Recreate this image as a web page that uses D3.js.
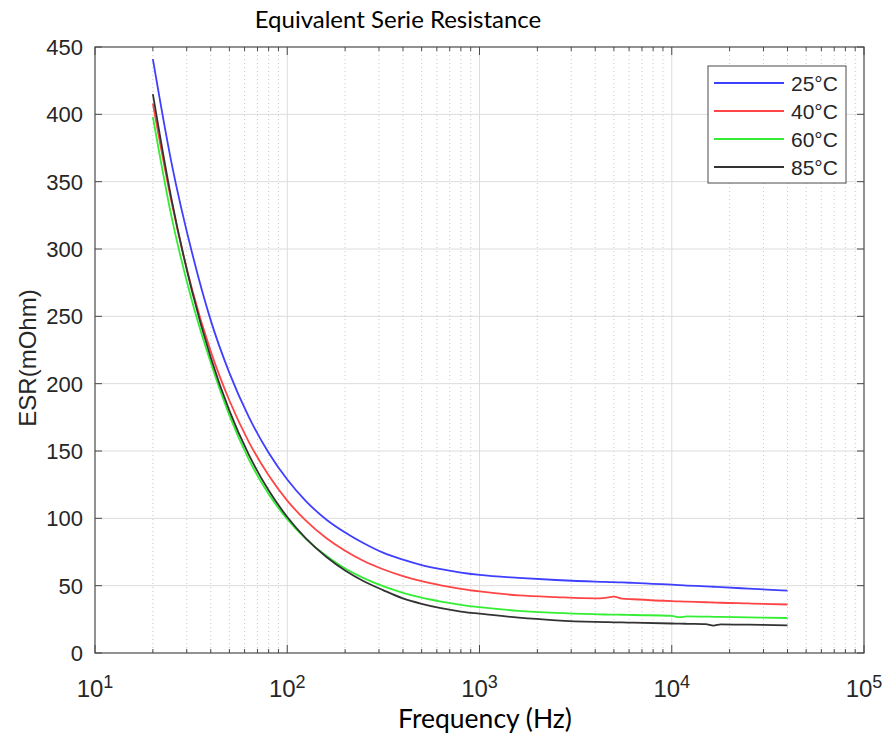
<!DOCTYPE html>
<html>
<head>
<meta charset="utf-8">
<script src="https://cdn.jsdelivr.net/npm/d3@7"></script>
<style>
  body { margin: 0; background: #fff; }
  svg { display: block; }
</style>
</head>
<body>
<svg id="chart" width="887" height="740"></svg>
<script>
// ---- data ----
const frequencies = [20,25,32,40,50,63,80,100,125,160,200,250,315,400,500,630,800,1000,1600,2500,4000,4500,5000,5500,6300,10000,11000,12000,15000,16500,18000,25000,40000];
const esr25 = [441,364,297,247,208,175.5,148.7,128.8,112.8,99,89.5,81.5,74.5,69.3,65.3,62.2,59.7,58,55.8,54.2,53,52.8,52.6,52.4,52.1,50.7,50.4,50.1,49.5,49.2,48.9,47.8,46.3];
const esr40 = [408,335,270,224,187.5,157,132,113.2,98.3,85.2,75.9,68.3,62.2,57.1,53.3,50.2,47.6,45.7,42.8,41.5,40.6,41,41.8,40.4,39.9,38.5,38.3,38.1,37.7,37.5,37.3,36.8,36];
const esr60 = [398,324,261,215.5,176.5,144,118,99.4,84.8,72,62.8,55.6,49.6,44.7,41.1,38.2,35.8,34,31.3,29.8,28.8,28.6,28.5,28.4,28.2,27.6,26.6,27.2,27,26.9,26.8,26.5,26];
const esr85 = [415,337,268.5,219.5,180,147.5,120.8,101,85.2,71.3,61.3,53.3,46.7,40.5,36.5,33.3,30.8,29.2,26.2,24.3,23.1,22.9,22.8,22.7,22.5,21.9,21.8,21.7,21.5,20.4,21.3,21,20.5];
const seriesNames = ["25°C","40°C","60°C","85°C"];
const seriesValues = [esr25, esr40, esr60, esr85];
const seriesColors = ["#3f3fff","#ff4545","#33ee33","#333333"];
const yTicks = [0,50,100,150,200,250,300,350,400,450];
const xDecades = [1,2,3,4,5];
const title = "Equivalent Serie Resistance";
const xLabel = "Frequency (Hz)";
const yLabel = "ESR(mOhm)";

// ---- layout ----
const L = 95, R = 864, T = 47, B = 653;
const svg = d3.select("#chart");
const x = d3.scaleLog().domain([10, 100000]).range([L, R]);
const y = d3.scaleLinear().domain([0, 450]).range([B, T]);

const axisColor = "#4a4a4a";
const textColor = "#262626";

// minor x values
const minorX = [];
for (let d = 1; d <= 4; d++) for (let k = 2; k <= 9; k++) minorX.push(k * Math.pow(10, d));

const g = svg.append("g");

// minor grid (dotted)
g.append("g").selectAll("line").data(minorX).join("line")
  .attr("x1", d => x(d)).attr("x2", d => x(d))
  .attr("y1", T).attr("y2", B)
  .attr("stroke", "#c8c8c8").attr("stroke-width", 1)
  .attr("stroke-dasharray", "1,3");

// major grid
g.append("g").selectAll("line").data(xDecades.slice(1, -1)).join("line")
  .attr("x1", d => x(Math.pow(10, d))).attr("x2", d => x(Math.pow(10, d)))
  .attr("y1", T).attr("y2", B)
  .attr("stroke", "#dcdcdc").attr("stroke-width", 1);
g.append("g").selectAll("line").data(yTicks.slice(1, -1)).join("line")
  .attr("x1", L).attr("x2", R)
  .attr("y1", d => y(d)).attr("y2", d => y(d))
  .attr("stroke", "#dcdcdc").attr("stroke-width", 1);

// data lines
const line = d3.line()
  .x((d, i) => x(frequencies[i]))
  .y(d => y(d))
  .curve(d3.curveMonotoneX);
seriesValues.forEach((vals, si) => {
  g.append("path").datum(vals)
    .attr("d", line)
    .attr("fill", "none")
    .attr("stroke", seriesColors[si])
    .attr("stroke-width", 1.8)
    .attr("stroke-linejoin", "round");
});

// axes box
g.append("rect").attr("x", L).attr("y", T).attr("width", R - L).attr("height", B - T)
  .attr("fill", "none").attr("stroke", axisColor).attr("stroke-width", 1.2);

// ticks (inward, both sides)
const tickG = g.append("g").attr("stroke", axisColor).attr("stroke-width", 1);
yTicks.forEach(v => {
  tickG.append("line").attr("x1", L).attr("x2", L + 7).attr("y1", y(v)).attr("y2", y(v));
  tickG.append("line").attr("x1", R).attr("x2", R - 7).attr("y1", y(v)).attr("y2", y(v));
});
xDecades.forEach(dd => {
  const xv = x(Math.pow(10, dd));
  tickG.append("line").attr("x1", xv).attr("x2", xv).attr("y1", B).attr("y2", B - 8);
  tickG.append("line").attr("x1", xv).attr("x2", xv).attr("y1", T).attr("y2", T + 8);
});
minorX.forEach(v => {
  const xv = x(v);
  tickG.append("line").attr("x1", xv).attr("x2", xv).attr("y1", B).attr("y2", B - 4);
  tickG.append("line").attr("x1", xv).attr("x2", xv).attr("y1", T).attr("y2", T + 4);
});

// y tick labels
g.append("g").selectAll("text").data(yTicks).join("text")
  .attr("x", L - 12).attr("y", d => y(d))
  .attr("dy", "0.36em")
  .attr("text-anchor", "end")
  .attr("font-family", "Liberation Sans, Arial, sans-serif")
  .attr("font-size", 22)
  .attr("fill", textColor)
  .text(d => d);

// x tick labels (10^n)
const xl = g.append("g");
xDecades.forEach(dd => {
  const t = xl.append("text")
    .attr("x", x(Math.pow(10, dd))).attr("y", 697)
    .attr("text-anchor", "middle")
    .attr("font-family", "Liberation Sans, Arial, sans-serif")
    .attr("font-size", 24)
    .attr("fill", textColor);
  t.append("tspan").text("10");
  t.append("tspan").attr("dy", -9).attr("font-size", 18).text(dd);
});

// title & axis labels
svg.append("text").attr("x", 398).attr("y", 28)
  .attr("text-anchor", "middle")
  .attr("font-family", "Lato, Open Sans, sans-serif")
  .attr("font-size", 24)
  .attr("fill", "#000")
  .text(title);
svg.append("text").attr("x", 485).attr("y", 728)
  .attr("text-anchor", "middle")
  .attr("font-family", "Lato, Open Sans, sans-serif")
  .attr("font-size", 26.5)
  .attr("fill", "#000")
  .text(xLabel);
svg.append("text")
  .attr("transform", "translate(36,358) rotate(-90)")
  .attr("text-anchor", "middle")
  .attr("font-family", "Liberation Sans, Arial, sans-serif")
  .attr("font-size", 24)
  .attr("fill", textColor)
  .text(yLabel);

// legend
const lg = svg.append("g");
lg.append("rect").attr("x", 708).attr("y", 66).attr("width", 138).attr("height", 117)
  .attr("fill", "#fff").attr("stroke", axisColor).attr("stroke-width", 1);
seriesNames.forEach((name, i) => {
  const yy = 83 + i * 28;
  lg.append("line").attr("x1", 714).attr("x2", 784).attr("y1", yy).attr("y2", yy)
    .attr("stroke", seriesColors[i]).attr("stroke-width", 1.8);
  lg.append("text").attr("x", 791).attr("y", yy).attr("dy", "0.36em")
    .attr("font-family", "Liberation Sans, Arial, sans-serif")
    .attr("font-size", 21)
    .attr("fill", textColor)
    .text(name);
});
</script>
</body>
</html>
